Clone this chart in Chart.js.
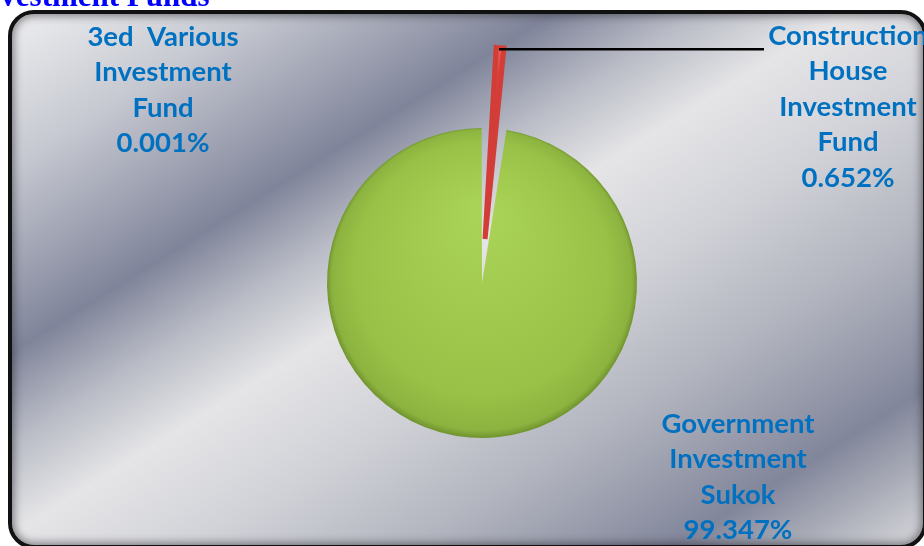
<!DOCTYPE html>
<html>
<head>
<meta charset="utf-8">
<script src="https://cdn.jsdelivr.net/npm/chart.js@4.4.0/dist/chart.umd.min.js"></script>
<style>
  html, body { margin: 0; padding: 0; width: 924px; height: 546px; overflow: hidden; background: #fff; }
  #frame {
    position: absolute; left: 8px; top: 10px; width: 911px; height: 531px;
    border: 4px solid #111; border-radius: 26px;
    background: linear-gradient(148deg,
      #eeeef0 0%, #c5c8d0 14%, #80849a 30.7%, #b8bbc5 38.8%, #e5e5e7 47.3%,
      #d0d1d7 59%, #b0b3bd 72%, #82869b 86%, #a8abb6 92.3%, #d8d8dc 100%);
    box-shadow: inset 0 0 9px 2px rgba(40, 40, 50, 0.55);
  }
  canvas { position: absolute; left: 0; top: 0; }
</style>
</head>
<body>
<div id="frame"></div>
<canvas id="pie" width="924" height="546"></canvas>
<canvas id="slice" width="924" height="546"></canvas>
<script>
const categories = [
  ['3ed  Various', 'Investment', 'Fund'],
  ['Construction', 'House', 'Investment', 'Fund'],
  ['Government', 'Investment', 'Sukok']
];
const shares = [0.001, 0.652, 99.347];

// where each label block is centred (first line)
const labelAnchors = [[163, 37], [848, 36], [738, 424]];
const LINE_H = 35.5;

const W = 924, H = 546;
const CX = 482, CY = 278, R = 155;
const ROTATION = 3.3;      // degrees, start of first slice
const EXPLODE = 39;        // pull-out of the construction slice

const total = shares.reduce((a, b) => a + b, 0);
const midDeg = ROTATION + (shares[0] + shares[1] / 2) / total * 360;
const midRad = midDeg * Math.PI / 180;
const sx = CX + EXPLODE * Math.sin(midRad);
const sy = CY - EXPLODE * Math.cos(midRad);

function centre(chart) {
  const a = chart.chartArea;
  return [(a.left + a.right) / 2, (a.top + a.bottom) / 2];
}

// sukok slice: soft radial shading with a darker rim
function greenFill(context) {
  if (context.dataIndex !== 2) return 'rgba(0,0,0,0)';
  const chart = context.chart;
  if (!chart.chartArea) return '#9bc548';
  const [x, y] = centre(chart);
  const g = chart.ctx.createRadialGradient(x, y - 70, 10, x, y, R + 1);
  g.addColorStop(0, '#a9d356');
  g.addColorStop(0.8, '#99c147');
  g.addColorStop(0.96, '#8cb33f');
  g.addColorStop(1, '#6c8f2c');
  return g;
}

function redFill(context) {
  if (context.dataIndex !== 1) return 'rgba(0,0,0,0)';
  const chart = context.chart;
  if (!chart.chartArea) return '#d9413d';
  const [x, y] = centre(chart);
  const g = chart.ctx.createLinearGradient(x, y - R - EXPLODE, x, y);
  g.addColorStop(0, '#e8625c');
  g.addColorStop(0.15, '#d9423d');
  g.addColorStop(1, '#c3302c');
  return g;
}

// main pie: only the sukok slice is painted here
new Chart(document.getElementById('pie'), {
  type: 'pie',
  data: {
    labels: categories,
    datasets: [{
      data: shares,
      backgroundColor: greenFill,
      borderWidth: 0,
      spacing: 3
    }]
  },
  options: {
    responsive: false,
    animation: false,
    rotation: ROTATION,
    radius: R - 1.5,
    layout: { padding: { left: 2 * CX - W, right: 0, top: 2 * CY - H + 10, bottom: 0 } },
    plugins: { legend: { display: false }, tooltip: { enabled: false } }
  }
});

const labelPlugin = {
  id: 'labels',
  afterDraw(chart) {
    const ctx = chart.ctx;
    ctx.save();
    // page title, runs off the top-left edge
    ctx.font = 'bold 31px "Liberation Serif"';
    ctx.fillStyle = '#0000ff';
    ctx.textAlign = 'left';
    ctx.textBaseline = 'alphabetic';
    ctx.fillText('Investment Funds', -29, 6);

    // leader line from the exploded slice tip
    const arc = chart.getDatasetMeta(0).data[1];
    const mid = (arc.startAngle + arc.endAngle) / 2;
    const tx = arc.x + Math.cos(mid) * arc.outerRadius;
    const ty = arc.y + Math.sin(mid) * arc.outerRadius;
    ctx.strokeStyle = '#000';
    ctx.lineWidth = 2.5;
    ctx.beginPath();
    ctx.moveTo(tx - 1, ty + 1.5);
    ctx.lineTo(764, ty + 1.5);
    ctx.stroke();

    ctx.font = 'bold 27.5px Lato';
    ctx.fillStyle = '#0070c0';
    ctx.textAlign = 'center';
    ctx.textBaseline = 'middle';
    categories.forEach((lines, i) => {
      const [lx, ly] = labelAnchors[i];
      const rows = lines.concat([shares[i].toFixed(3) + '%']);
      rows.forEach((t, j) => ctx.fillText(t, lx, ly + j * LINE_H));
    });
    ctx.restore();
  }
};

// exploded construction slice, drawn on its own layer with a shifted centre
new Chart(document.getElementById('slice'), {
  type: 'pie',
  data: {
    labels: categories,
    datasets: [{
      data: shares,
      backgroundColor: redFill,
      borderColor: (c) => c.dataIndex === 1 ? '#d23d38' : 'rgba(0,0,0,0)',
      borderWidth: (c) => c.dataIndex === 1 ? 5 : 0,
      borderJoinStyle: 'miter'
    }]
  },
  options: {
    responsive: false,
    animation: false,
    rotation: ROTATION,
    radius: R + EXPLODE - 2,
    layout: { padding: { left: 2 * sx - W, right: 0, top: 0, bottom: H - 2 * sy } },
    plugins: { legend: { display: false }, tooltip: { enabled: false } }
  },
  plugins: [labelPlugin]
});
</script>
</body>
</html>
